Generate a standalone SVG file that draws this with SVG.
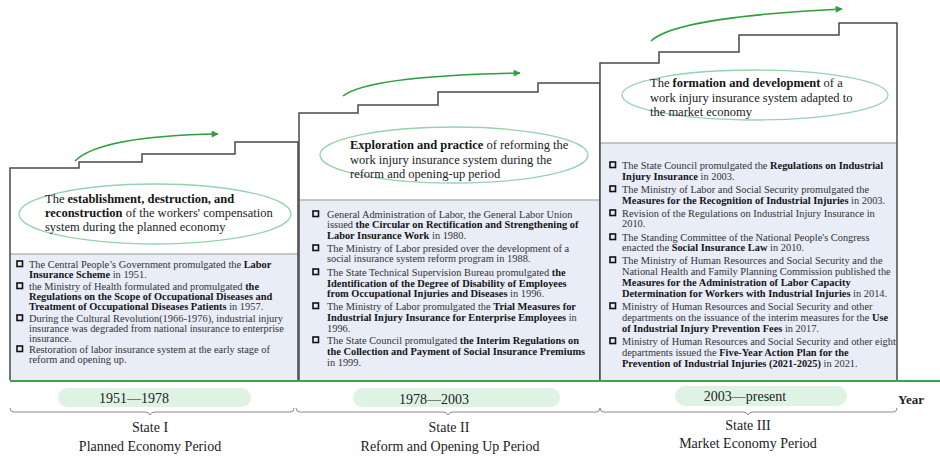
<svg xmlns="http://www.w3.org/2000/svg" width="940" height="457" viewBox="0 0 940 457">
<defs>
<style>
.outline{fill:none;stroke:#4a4a4a;stroke-width:1.5}
.upper{fill:#ffffff}
.lower{fill:#e9edf7}
.sep{stroke:#b4b4b4;stroke-width:1.5}
.ell{fill:#ffffff;stroke:#94d3ad;stroke-width:1.3}
.hd{font-family:"Liberation Serif","Times New Roman",serif;font-size:12.5px;fill:#222}
.tx{font-family:"Liberation Serif","Times New Roman",serif;font-size:10.4px;fill:#333}
.b{font-weight:bold;fill:#151515}
.bul{fill:none;stroke:#111;stroke-width:1.6}
.pill{fill:#dff3e5}
.pt{font-family:"Liberation Serif","Times New Roman",serif;font-size:14px;fill:#222;text-anchor:middle}
.st{font-family:"Liberation Serif","Times New Roman",serif;font-size:14px;fill:#222;text-anchor:middle}
.brace{fill:none;stroke:#8a8a8a;stroke-width:1}
.arr{fill:none;stroke:#2f9e3c;stroke-width:1.6}
</style>
<marker id="ah" viewBox="0 0 10 10" refX="9" refY="5" markerWidth="8" markerHeight="7" markerUnits="userSpaceOnUse" orient="auto">
<path d="M0,0 L10,5 L0,10 z" fill="#2f9e3c"/>
</marker>
</defs>
<rect width="940" height="457" fill="#ffffff"/>

<g id="stage1">
<polygon class="upper" points="10,380 10,168 79,168 79,162 142,162 142,154 235,154 235,142 298,142 298,380"/>
<rect class="lower" x="10" y="254" width="288" height="126"/>
<line class="sep" x1="10" y1="254" x2="298" y2="254"/>
<polyline class="outline" points="10,380 10,168 79,168 79,162 142,162 142,154 235,154 235,142 298,142 298,380"/>
<ellipse class="ell" cx="155" cy="214" rx="136" ry="30"/>
<text class="hd" x="45" y="203">The <tspan class="b">establishment, destruction, and</tspan></text>
<text class="hd" x="45" y="217"><tspan class="b">reconstruction</tspan> of the workers' compensation</text>
<text class="hd" x="45" y="231">system during the planned economy</text>
<rect class="bul" x="17" y="261" width="5.5" height="5.5"/>
<text class="tx" x="29" y="268">The Central People’s Government promulgated the <tspan class="b">Labor</tspan></text>
<text class="tx" x="29" y="278"><tspan class="b">Insurance Scheme</tspan> in 1951.</text>
<rect class="bul" x="17" y="283" width="5.5" height="5.5"/>
<text class="tx" x="29" y="290">the Ministry of Health formulated and promulgated <tspan class="b">the</tspan></text>
<text class="tx b" x="29" y="300">Regulations on the Scope of Occupational Diseases and</text>
<text class="tx" x="29" y="310"><tspan class="b">Treatment of Occupational Diseases Patients</tspan> in 1957.</text>
<rect class="bul" x="17" y="315" width="5.5" height="5.5"/>
<text class="tx" x="29" y="322">During the Cultural Revolution(1966-1976), industrial injury</text>
<text class="tx" x="29" y="332">insurance was degraded from national insurance to enterprise</text>
<text class="tx" x="29" y="342">insurance.</text>
<rect class="bul" x="17" y="346" width="5.5" height="5.5"/>
<text class="tx" x="29" y="353">Restoration of labor insurance system at the early stage of</text>
<text class="tx" x="29" y="363">reform and opening up.</text>
</g>

<g id="stage2">
<polygon class="upper" points="299,380 299,113 358,113 358,105 438,105 438,92 538,92 538,83 600,83 600,380"/>
<rect class="lower" x="299" y="200" width="301" height="180"/>
<line class="sep" x1="299" y1="200" x2="600" y2="200"/>
<polyline class="outline" points="299,380 299,113 358,113 358,105 438,105 438,92 538,92 538,83 600,83 600,380"/>
<ellipse class="ell" cx="454" cy="155" rx="134" ry="28"/>
<text class="hd" x="350" y="149"><tspan class="b">Exploration and practice</tspan> of reforming the</text>
<text class="hd" x="350" y="164">work injury insurance system during the</text>
<text class="hd" x="350" y="178">reform and opening-up period</text>
<rect class="bul" x="313" y="211" width="5.5" height="5.5"/>
<text class="tx" x="327" y="218">General Administration of Labor, the General Labor Union</text>
<text class="tx" x="327" y="228">issued <tspan class="b">the Circular on Rectification and Strengthening of</tspan></text>
<text class="tx" x="327" y="239"><tspan class="b">Labor Insurance Work</tspan> in 1980.</text>
<rect class="bul" x="313" y="245" width="5.5" height="5.5"/>
<text class="tx" x="327" y="252">The Ministry of Labor presided over the development of a</text>
<text class="tx" x="327" y="262">social insurance system reform program in 1988.</text>
<rect class="bul" x="313" y="269" width="5.5" height="5.5"/>
<text class="tx" x="327" y="276">The State Technical Supervision Bureau promulgated <tspan class="b">the</tspan></text>
<text class="tx b" x="327" y="287">Identification of the Degree of Disability of Employees</text>
<text class="tx" x="327" y="297"><tspan class="b">from Occupational Injuries and Diseases</tspan> in 1996.</text>
<rect class="bul" x="313" y="303" width="5.5" height="5.5"/>
<text class="tx" x="327" y="310">The Ministry of Labor promulgated the <tspan class="b">Trial Measures for</tspan></text>
<text class="tx" x="327" y="321"><tspan class="b">Industrial Injury Insurance for Enterprise Employees</tspan> in</text>
<text class="tx" x="327" y="332">1996.</text>
<rect class="bul" x="313" y="337" width="5.5" height="5.5"/>
<text class="tx" x="327" y="344">The State Council promulgated <tspan class="b">the Interim Regulations on</tspan></text>
<text class="tx b" x="327" y="355">the Collection and Payment of Social Insurance Premiums</text>
<text class="tx" x="327" y="366">in 1999.</text>
</g>

<g id="stage3">
<polygon class="upper" points="600,380 600,63 659,63 659,52 739,52 739,35 839,35 839,23 897,23 897,380"/>
<rect class="lower" x="600" y="143" width="297" height="237"/>
<line class="sep" x1="600" y1="143" x2="897" y2="143"/>
<polyline class="outline" points="600,380 600,63 659,63 659,52 739,52 739,35 839,35 839,23 897,23 897,380"/>
<ellipse class="ell" cx="755" cy="95" rx="133" ry="25"/>
<text class="hd" x="650" y="87">The <tspan class="b">formation and development</tspan> of a</text>
<text class="hd" x="650" y="102">work injury insurance system adapted to</text>
<text class="hd" x="650" y="116">the market economy</text>
<rect class="bul" x="610" y="162" width="5.5" height="5.5"/>
<text class="tx" x="622" y="169">The State Council promulgated the <tspan class="b">Regulations on Industrial</tspan></text>
<text class="tx" x="622" y="180"><tspan class="b">Injury Insurance</tspan> in 2003.</text>
<rect class="bul" x="610" y="186" width="5.5" height="5.5"/>
<text class="tx" x="622" y="193">The Ministry of Labor and Social Security promulgated the</text>
<text class="tx" x="622" y="204"><tspan class="b">Measures for the Recognition of Industrial Injuries</tspan> in 2003.</text>
<rect class="bul" x="610" y="210" width="5.5" height="5.5"/>
<text class="tx" x="622" y="217">Revision of the Regulations on Industrial Injury Insurance in</text>
<text class="tx" x="622" y="227">2010.</text>
<rect class="bul" x="610" y="234" width="5.5" height="5.5"/>
<text class="tx" x="622" y="241">The Standing Committee of the National People's Congress</text>
<text class="tx" x="622" y="251">enacted the <tspan class="b">Social Insurance Law</tspan> in 2010.</text>
<rect class="bul" x="610" y="257" width="5.5" height="5.5"/>
<text class="tx" x="622" y="264">The Ministry of Human Resources and Social Security and the</text>
<text class="tx" x="622" y="275">National Health and Family Planning Commission published the</text>
<text class="tx b" x="622" y="286">Measures for the Administration of Labor Capacity</text>
<text class="tx" x="622" y="297"><tspan class="b">Determination for Workers with Industrial Injuries</tspan> in 2014.</text>
<rect class="bul" x="610" y="303" width="5.5" height="5.5"/>
<text class="tx" x="622" y="310">Ministry of Human Resources and Social Security and other</text>
<text class="tx" x="622" y="321">departments on the issuance of the interim measures for the <tspan class="b">Use</tspan></text>
<text class="tx" x="622" y="332"><tspan class="b">of Industrial Injury Prevention Fees</tspan> in 2017.</text>
<rect class="bul" x="610" y="338" width="5.5" height="5.5"/>
<text class="tx" x="622" y="345">Ministry of Human Resources and Social Security and other eight</text>
<text class="tx" x="622" y="356">departments issued the <tspan class="b">Five-Year Action Plan for the</tspan></text>
<text class="tx" x="622" y="367"><tspan class="b">Prevention of Industrial Injuries (2021-2025)</tspan> in 2021.</text>
</g>

<g id="connectors">
<path class="arr" d="M75,161 Q100,136 218,134" marker-end="url(#ah)"/>
<path class="arr" d="M343,96 Q368,76 520,73" marker-end="url(#ah)"/>
<path class="arr" d="M651,41 Q676,17 842,9" marker-end="url(#ah)"/>
</g>

<g id="timeline">
<line x1="10" y1="381" x2="940" y2="381" stroke="#3aa546" stroke-width="2"/>
<rect class="pill" x="58" y="388" width="193" height="19" rx="9.5"/>
<rect class="pill" x="353" y="388" width="207" height="19" rx="9.5"/>
<rect class="pill" x="675" y="386" width="172" height="20" rx="10"/>
<text class="pt" x="134" y="403">1951—1978</text>
<text class="pt" x="434" y="404">1978—2003</text>
<text class="pt" x="745" y="401">2003—present</text>
<text x="898" y="404" font-family="Liberation Serif, serif" font-size="13px" font-weight="bold" fill="#222">Year</text>
<path class="brace" d="M10,408 q0,4 4,4 H145 q4,0 5,3 q1,-3 5,-3 H290 q4,0 4,-4"/>
<path class="brace" d="M296,408 q0,4 4,4 H443 q4,0 5,3 q1,-3 5,-3 H596 q4,0 4,-4"/>
<path class="brace" d="M600,408 q0,4 4,4 H743 q4,0 5,3 q1,-3 5,-3 H893 q4,0 4,-4"/>
<text class="st" x="150" y="432">State I</text>
<text class="st" x="150" y="451">Planned Economy Period</text>
<text class="st" x="449" y="432">State II</text>
<text class="st" x="450" y="451">Reform and Opening Up Period</text>
<text class="st" x="748" y="430">State III</text>
<text class="st" x="748" y="448">Market Economy Period</text>
</g>
</svg>
